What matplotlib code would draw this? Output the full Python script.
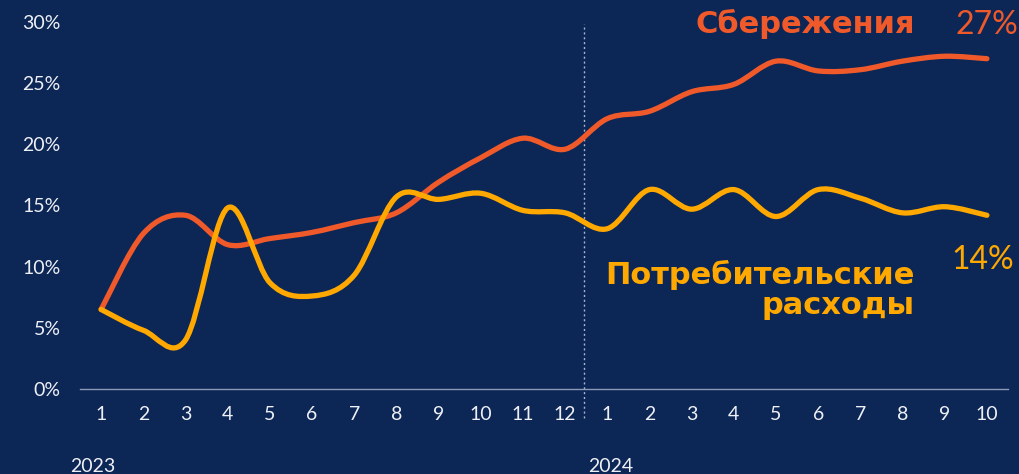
import numpy as np
import matplotlib.pyplot as plt
from matplotlib.path import Path
from matplotlib.patches import PathPatch

# данные (% к доходам)
months = ["1", "2", "3", "4", "5", "6", "7", "8", "9", "10", "11", "12",
          "1", "2", "3", "4", "5", "6", "7", "8", "9", "10"]
years = ["2023", "2024"]
savings = [6.5, 12.7, 14.2, 11.8, 12.3, 12.8, 13.6, 14.4, 16.9, 18.9, 20.5, 19.6,
           22.1, 22.7, 24.3, 24.9, 26.8, 26.0, 26.1, 26.8, 27.2, 27.0]
spending = [6.5, 4.8, 4.0, 14.8, 8.7, 7.6, 9.3, 15.7, 15.5, 16.0, 14.6, 14.4,
            13.1, 16.3, 14.7, 16.3, 14.1, 16.3, 15.6, 14.4, 14.9, 14.2]

BG = "#0c2656"
ORANGE = "#f05a2b"
YELLOW = "#ffa800"
TXT = "#eef0f5"

plt.rcParams['font.family'] = ['Lato', 'DejaVu Sans']
LABEL_FONT = ['DejaVu Sans']


def smooth_path(x, y):
    # сглаженная линия (Catmull-Rom -> кривые Безье), проходит через точки
    pts = np.column_stack([x, y]).astype(float)
    n = len(pts)
    verts = [pts[0]]
    codes = [Path.MOVETO]
    for i in range(n - 1):
        p0 = pts[max(i - 1, 0)]
        p1 = pts[i]
        p2 = pts[i + 1]
        p3 = pts[min(i + 2, n - 1)]
        c1 = p1 + (p2 - p0) / 6.0
        c2 = p2 - (p3 - p1) / 6.0
        verts += [c1, c2, p2]
        codes += [Path.CURVE4] * 3
    return Path(verts, codes)


fig = plt.figure(figsize=(10.2, 4.74), dpi=100, facecolor=BG)
ax = fig.add_axes([80 / 1020, 85 / 474, 928 / 1020, 367 / 474])
ax.set_facecolor(BG)

x = np.arange(len(months))
for series, color, z in [(savings, ORANGE, 3), (spending, YELLOW, 4)]:
    patch = PathPatch(smooth_path(x, series), facecolor="none", edgecolor=color,
                      lw=3.8, capstyle="round", joinstyle="round", zorder=z)
    ax.add_patch(patch)

ax.set_xlim(-0.5, 21.5)
ax.set_ylim(0, 30)

# разделитель годов
ax.axvline(11.45, ymin=-0.08, ymax=0.995, color="#aab6cc", lw=1, ls=(0, (1.5, 2)),
           clip_on=False, zorder=2)

ax.set_yticks(range(0, 31, 5))
ax.set_yticklabels([f"{v}%" for v in range(0, 31, 5)])
ax.set_xticks(x)
ax.set_xticklabels(months)
ax.tick_params(axis="y", length=0, pad=14, labelsize=14, labelcolor=TXT)
ax.tick_params(axis="x", length=0, pad=12, labelsize=14, labelcolor=TXT)

for side in ["top", "right", "left"]:
    ax.spines[side].set_visible(False)
ax.spines["bottom"].set_color("#8d9bb8")
ax.spines["bottom"].set_linewidth(1)

# подписи годов
fig.text(70 / 1020, 1 - 466 / 474, years[0], color=TXT, fontsize=14,
         ha="left", va="center")
fig.text(588 / 1020, 1 - 466 / 474, years[1], color=TXT, fontsize=14,
         ha="left", va="center")

# подписи рядов
fig.text(915 / 1020, 1 - 24 / 474, "Сбережения", color=ORANGE, fontsize=22,
         family=LABEL_FONT, fontweight="bold", ha="right", va="center")
fig.text(1018 / 1020, 1 - 25 / 474, f"{savings[-1]:.0f}%", color=ORANGE,
         fontsize=23, ha="right", va="center")
fig.text(915 / 1020, 1 - 290 / 474, "Потребительские\nрасходы", color=YELLOW,
         fontsize=22, family=LABEL_FONT, fontweight="bold", ha="right",
         va="center", multialignment="right", linespacing=1.08)
fig.text(1014 / 1020, 1 - 260 / 474, f"{spending[-1]:.0f}%", color=YELLOW,
         fontsize=23, ha="right", va="center")

fig.savefig("out.png", dpi=100, facecolor=BG)
